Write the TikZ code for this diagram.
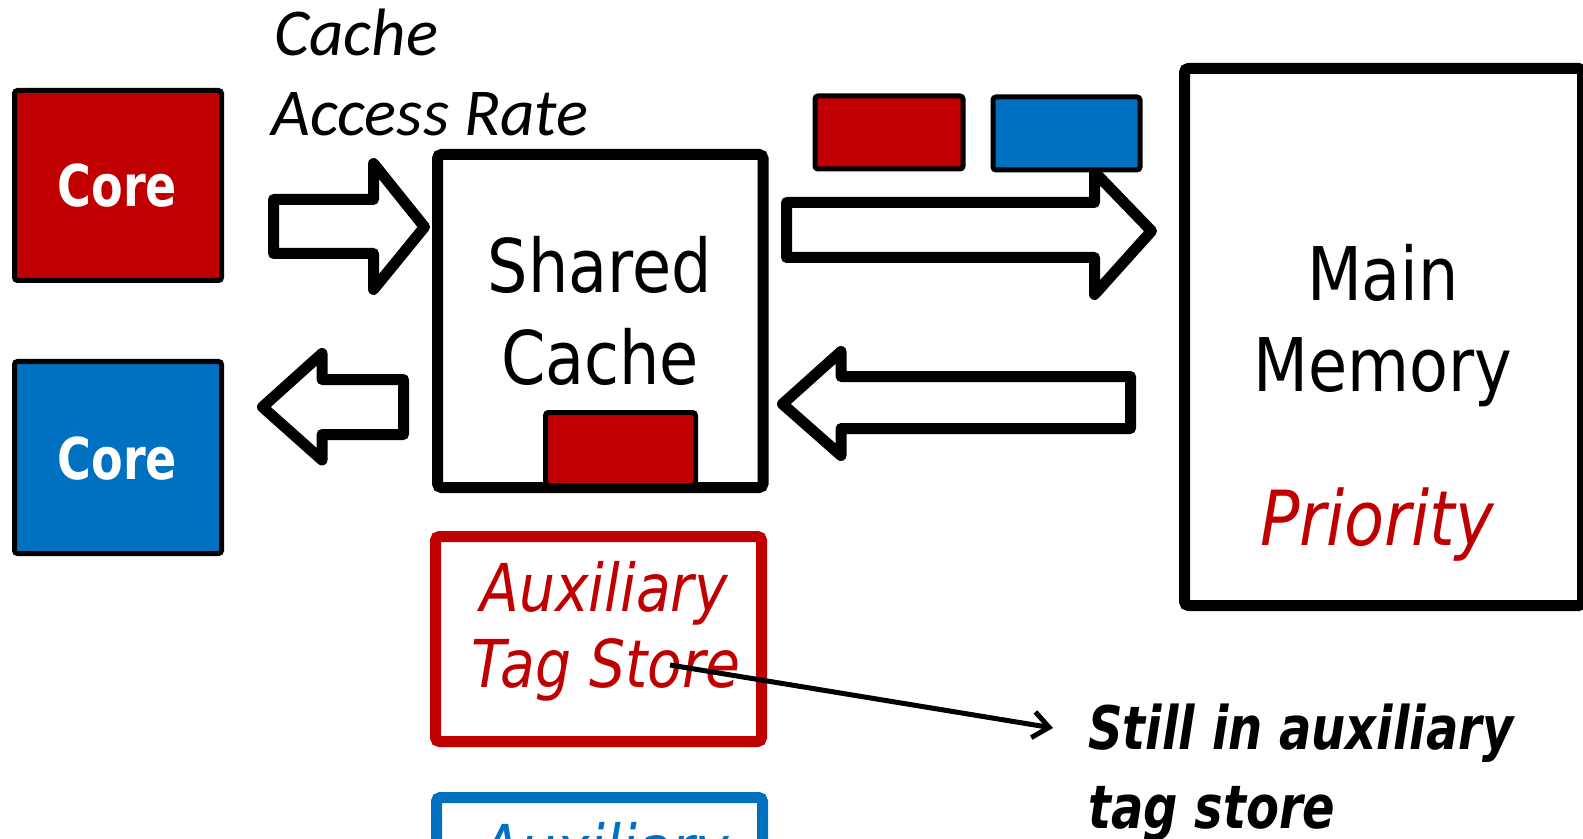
\documentclass[tikz,border=0pt]{standalone}
\usepackage{fontspec}
\usetikzlibrary{arrows.meta}
\newfontfamily\tah[FakeStretch=0.86]{DejaVu Sans}
\newfontfamily\tahb[FakeStretch=0.8]{DejaVu Sans}
\newfontfamily\calif{Carlito}
\definecolor{cred}{HTML}{C00000}
\definecolor{cblue}{HTML}{0070C0}
\begin{document}
\begin{tikzpicture}[x=0.5pt,y=-0.5pt,
  thinbox/.style={draw=black,line width=2.5pt,rounded corners=1.5pt,inner sep=0pt},
  thickbox/.style={draw=black,line width=5.5pt,rounded corners=2pt,inner sep=0pt},
  auxbox/.style={line width=5.5pt,rounded corners=2pt,inner sep=0pt,minimum width=163pt,minimum height=102.5pt},
  blockarrow/.style={draw=black,fill=white,line width=5.5pt,line join=round},
  txt/.style={inner sep=0pt,anchor=base},
  coretxt/.style={txt,text=white,font=\tahb\bfseries\fontsize{28.8}{34}\selectfont},
  bigtxt/.style={txt,font=\tah\fontsize{37}{44}\selectfont},
  auxtxt/.style={txt,font=\tah\itshape\fontsize{33}{40}\selectfont},
  ratetxt/.style={inner sep=0pt,anchor=base west,font=\calif\itshape\fontsize{33.5}{40}\selectfont},
  stilltxt/.style={inner sep=0pt,anchor=base west,font=\tahb\bfseries\itshape\fontsize{30}{36}\selectfont}
]
\useasboundingbox (0,0) rectangle (1583,839);
\clip (0,0) rectangle (1583,839);

% cores
\node[thinbox,fill=cred,minimum width=103.5pt,minimum height=95pt] (redcore) at (118,185.5) {};
\node[thinbox,fill=cblue,minimum width=103.5pt,minimum height=96pt] (bluecore) at (118,457.5) {};
\node[coretxt] (redcoretxt) at (117.5,207) {Core};
\node[coretxt] (bluecoretxt) at (117.5,479) {Core};

% cache access rate label
\node[ratetxt] (lblcache) at (274,56) {Cache};
\node[ratetxt] (lblrate) at (271,136) {Access Rate};

% shared cache
\node[thickbox,minimum width=162.75pt,minimum height=166.5pt] (shared) at (600.25,321) {};
\node[bigtxt] (sharedA) at (600,293) {Shared};
\node[bigtxt] (sharedB) at (600,384) {Cache};
\node[thinbox,fill=cred,minimum width=75pt,minimum height=36.5pt] (incache) at (620.5,449) {};

% block arrows
\draw[blockarrow] (273.5,199.5) -- (373.5,199.5) -- (373.5,163.5) -- (424.5,227) -- (373.5,289.5) -- (373.5,253.5) -- (273.5,253.5) -- cycle;
\draw[blockarrow] (403.5,379.5) -- (322,379.5) -- (322,353.5) -- (262.5,407) -- (322,460) -- (322,434.5) -- (403.5,434.5) -- cycle;
\draw[blockarrow] (786.5,202.5) -- (1094.5,202.5) -- (1094.5,172) -- (1151.5,231) -- (1094.5,294.5) -- (1094.5,257.5) -- (786.5,257.5) -- cycle;
\draw[blockarrow] (1130.5,376.5) -- (841,376.5) -- (841,351.5) -- (782.5,404) -- (841,455.5) -- (841,428.5) -- (1130.5,428.5) -- cycle;

% top blocks
\node[thinbox,fill=cred,minimum width=74pt,minimum height=36.5pt] (redblk) at (889,132.5) {};
\node[thinbox,fill=cblue,minimum width=73.5pt,minimum height=36.5pt] (blueblk) at (1066.5,133.5) {};

% main memory
\node[thickbox,minimum width=199pt,minimum height=268.5pt] (mem) at (1383.5,337) {};
\node[bigtxt] (memA) at (1383,301) {Main};
\node[bigtxt] (memB) at (1383,392) {Memory};
\node[txt,text=cred,font=\tah\itshape\fontsize{38}{45}\selectfont] (prio) at (1377,545) {Priority};

% auxiliary tag stores
\node[auxbox,draw=cred] (auxred) at (598.5,639) {};
\node[auxtxt,text=cred] (auxredA) at (604,611) {Auxiliary};
\node[auxtxt,text=cred] (auxredB) at (606,687) {Tag Store};
\node[auxbox,draw=cblue] (auxblue) at (599.5,900) {};
\node[auxtxt,text=cblue] (auxblueA) at (605,872) {Auxiliary};

% pointer
\coordinate (ptrstart) at (670,665);
\node[stilltxt] (stillA) at (1088,749) {Still in auxiliary};
\node[stilltxt] (stillB) at (1088,828) {tag store};
\coordinate (ptrend) at (1053,728);
\draw[line width=2.5pt,-{Straight Barb[length=8pt,width=13pt]}] (ptrstart) -- (ptrend);
\end{tikzpicture}
\end{document}
